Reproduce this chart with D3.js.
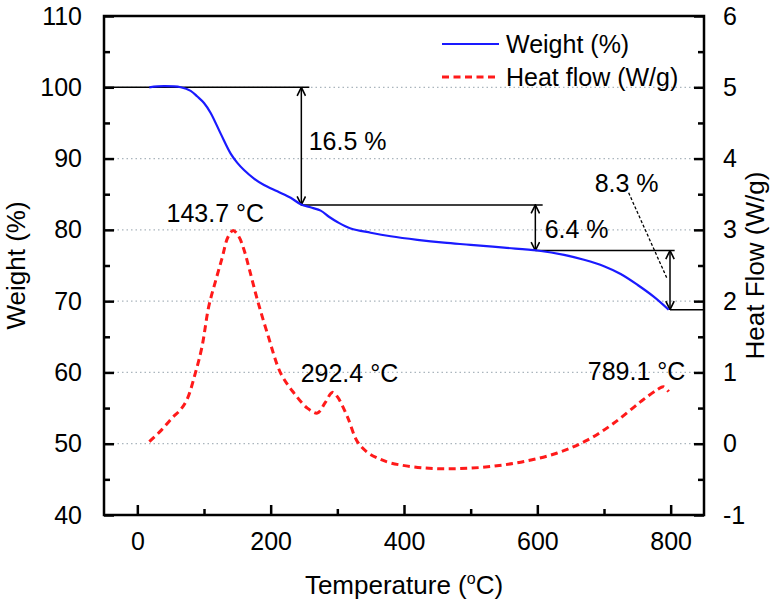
<!DOCTYPE html>
<html>
<head>
<meta charset="utf-8">
<script src="https://cdn.jsdelivr.net/npm/d3@7"></script>
<style>
  html, body { margin: 0; padding: 0; background: #fff; }
  svg { display: block; font-family: "Liberation Sans", Arial, sans-serif; }
</style>
</head>
<body>
<svg id="chart" width="778" height="603"></svg>
<script>
// ---- Data ----
const weightTemp = [18, 40, 65, 80, 90, 100, 110, 125, 140, 150, 160, 175, 190, 210, 230, 245, 262, 275, 288, 300, 320, 350, 380, 420, 460, 500, 550, 600, 640, 670, 700, 725, 750, 775, 797];
const weightPct  = [100.0, 100.15, 100.0, 99.5, 98.7, 97.8, 96.4, 93.5, 90.7, 89.4, 88.4, 87.2, 86.3, 85.4, 84.5, 83.6, 83.1, 82.7, 81.8, 81.1, 80.2, 79.6, 79.1, 78.6, 78.2, 77.9, 77.5, 77.1, 76.5, 75.8, 74.9, 73.8, 72.3, 70.6, 68.8];

const heatTemp = [18, 35, 52, 65, 75, 87, 97, 107, 117, 127, 136, 143.7, 152, 160, 168, 180, 195, 215, 235, 255, 270, 282, 292.4, 300, 315, 330, 345, 360, 380, 430, 480, 530, 580, 630, 675, 715, 755, 780, 789.1, 797];
const heatFlow = [0.03, 0.18, 0.36, 0.48, 0.63, 0.99, 1.36, 1.92, 2.27, 2.6, 2.9, 2.99, 2.91, 2.72, 2.45, 2.02, 1.55, 0.99, 0.71, 0.5, 0.43, 0.58, 0.72, 0.66, 0.38, 0.03, -0.12, -0.2, -0.27, -0.34, -0.35, -0.32, -0.25, -0.13, 0.05, 0.29, 0.59, 0.76, 0.8, 0.73];

const xTicks = [0, 200, 400, 600, 800];
const xMinorTicks = [100, 300, 500, 700];
const yLeftTicks = [40, 50, 60, 70, 80, 90, 100, 110];
const yLeftMinor = [45, 55, 65, 75, 85, 95, 105];
const yRightTicks = [-1, 0, 1, 2, 3, 4, 5, 6];
const yRightMinor = [-0.5, 0.5, 1.5, 2.5, 3.5, 4.5, 5.5];
const gridValues = [50, 60, 70, 80, 90, 100];

const legendLabels = ["Weight (%)", "Heat flow (W/g)"];

// Step annotations (temperature, weight) in data units
const stepLevels = [
  { y: 100.0, x0: -50, x1: 258 },
  { y: 83.5, x0: 245, x1: 608 },
  { y: 77.1, x0: 597, x1: 806 },
  { y: 68.8, x0: 799, x1: 850 }
];
const stepArrows = [
  { x: 246, y0: 100.0, y1: 83.5 },
  { x: 597, y0: 83.5, y1: 77.1 },
  { x: 799, y0: 77.1, y1: 68.8 }
];
const stepLabels = [
  { text: "16.5 %", x: 257, y: 91.2 },
  { text: "6.4 %", x: 611, y: 78.9 },
  { text: "8.3 %", x: 686, y: 85.3 }
];
const leader = { x0: 737, y0: 85.2, x1: 794, y1: 73.3 };
const peakLabels = [
  { text: "143.7 °C", x: 117, hf: 3.11, anchor: "middle" },
  { text: "292.4 °C", x: 245, hf: 0.865, anchor: "start" },
  { text: "789.1 °C", x: 822, hf: 0.89, anchor: "end" }
];

// ---- Layout ----
const svg = d3.select("#chart");
const L = 104, R = 704, T = 16, B = 515;

const x = d3.scaleLinear().domain([-50, 850]).range([L, R]);
const yL = d3.scaleLinear().domain([40, 110]).range([B, T]);
const yR = d3.scaleLinear().domain([-1, 6]).range([B, T]);

const FS = 25;
const fmt = d => String(d);

// grid
svg.append("g").selectAll("line").data(gridValues).join("line")
  .attr("x1", L).attr("x2", R)
  .attr("y1", d => yL(d)).attr("y2", d => yL(d))
  .attr("stroke", "#aab5bd").attr("stroke-width", 1.2)
  .attr("stroke-dasharray", "1.5,3");

// Axes
const axisStyle = g => {
  g.select(".domain").remove();
  g.selectAll("text").attr("font-size", FS).attr("fill", "#000")
    .attr("font-family", "Liberation Sans, Arial, sans-serif");
  g.selectAll(".tick line").attr("stroke", "#000").attr("stroke-width", 2.5);
};

svg.append("g").attr("transform", `translate(0,${B})`)
  .call(d3.axisBottom(x).tickValues(xTicks).tickSizeInner(-10).tickSizeOuter(0).tickPadding(17).tickFormat(fmt))
  .call(axisStyle);
svg.append("g").attr("transform", `translate(0,${B})`)
  .call(d3.axisBottom(x).tickValues(xMinorTicks).tickSizeInner(-6).tickSizeOuter(0).tickFormat(""))
  .call(axisStyle);

svg.append("g").attr("transform", `translate(${L},0)`)
  .call(d3.axisLeft(yL).tickValues(yLeftTicks).tickSizeInner(-10).tickSizeOuter(0).tickPadding(22).tickFormat(fmt))
  .call(axisStyle);
svg.append("g").attr("transform", `translate(${L},0)`)
  .call(d3.axisLeft(yL).tickValues(yLeftMinor).tickSizeInner(-6).tickSizeOuter(0).tickFormat(""))
  .call(axisStyle);

svg.append("g").attr("transform", `translate(${R},0)`)
  .call(d3.axisRight(yR).tickValues(yRightTicks).tickSizeInner(-10).tickSizeOuter(0).tickPadding(19).tickFormat(fmt))
  .call(axisStyle);
svg.append("g").attr("transform", `translate(${R},0)`)
  .call(d3.axisRight(yR).tickValues(yRightMinor).tickSizeInner(-6).tickSizeOuter(0).tickFormat(""))
  .call(axisStyle);

// Frame
svg.append("rect").attr("x", L).attr("y", T).attr("width", R - L).attr("height", B - T)
  .attr("fill", "none").attr("stroke", "#000").attr("stroke-width", 2.5);

// Axis titles
svg.append("text").attr("x", (L + R) / 2).attr("y", 594)
  .attr("text-anchor", "middle").attr("font-size", 26)
  .call(t => {
    t.append("tspan").text("Temperature (");
    t.append("tspan").attr("font-size", 16).attr("dy", -10).text("o");
    t.append("tspan").attr("dy", 10).text("C)");
  });
svg.append("text").attr("transform", `translate(25,${(T + B) / 2}) rotate(-90)`)
  .attr("text-anchor", "middle").attr("font-size", 26).text("Weight (%)");
svg.append("text").attr("transform", `translate(764,${(T + B) / 2}) rotate(-90)`)
  .attr("text-anchor", "middle").attr("font-size", 26).text("Heat Flow (W/g)");

// Markers
const defs = svg.append("defs");
defs.append("marker").attr("id", "arr").attr("viewBox", "0 0 10 10")
  .attr("refX", 9.5).attr("refY", 5).attr("markerWidth", 10).attr("markerHeight", 10)
  .attr("markerUnits", "userSpaceOnUse").attr("orient", "auto-start-reverse")
  .append("path").attr("d", "M1,0.8 L9.5,5 L1,9.2").attr("fill", "none")
  .attr("stroke", "#000").attr("stroke-width", 1.6);

// Step levels
svg.append("g").selectAll("line").data(stepLevels).join("line")
  .attr("x1", d => x(d.x0)).attr("x2", d => x(d.x1))
  .attr("y1", d => yL(d.y)).attr("y2", d => yL(d.y))
  .attr("stroke", "#000").attr("stroke-width", 1.5);

svg.append("g").selectAll("line").data(stepArrows).join("line")
  .attr("x1", d => x(d.x)).attr("x2", d => x(d.x))
  .attr("y1", d => yL(d.y0)).attr("y2", d => yL(d.y1))
  .attr("stroke", "#000").attr("stroke-width", 1.5)
  .attr("marker-start", "url(#arr)").attr("marker-end", "url(#arr)");

svg.append("line")
  .attr("x1", x(leader.x0)).attr("y1", yL(leader.y0))
  .attr("x2", x(leader.x1)).attr("y2", yL(leader.y1))
  .attr("stroke", "#000").attr("stroke-width", 1.3).attr("stroke-dasharray", "3,2");

svg.append("g").selectAll("text").data(stepLabels).join("text")
  .attr("x", d => x(d.x)).attr("y", d => yL(d.y))
  .attr("font-size", FS).attr("text-anchor", "start").text(d => d.text);

// Curves
const weightData = weightTemp.map((t, i) => [t, weightPct[i]]);
const heatData = heatTemp.map((t, i) => [t, heatFlow[i]]);

svg.append("path").datum(heatData)
  .attr("d", d3.line().x(d => x(d[0])).y(d => yR(d[1])).curve(d3.curveCatmullRom.alpha(0.5)))
  .attr("fill", "none").attr("stroke", "#ff1a1a").attr("stroke-width", 3)
  .attr("stroke-dasharray", "7,4.5");

svg.append("path").datum(weightData)
  .attr("d", d3.line().x(d => x(d[0])).y(d => yL(d[1])).curve(d3.curveCatmullRom.alpha(0.5)))
  .attr("fill", "none").attr("stroke", "#1a1aff").attr("stroke-width", 2.2);

// Peak labels
svg.append("g").selectAll("text").data(peakLabels).join("text")
  .attr("x", d => x(d.x)).attr("y", d => yR(d.hf))
  .attr("font-size", FS).attr("text-anchor", d => d.anchor).text(d => d.text);

// Legend
const leg = svg.append("g");
const legY = [44, 77];
leg.append("line").attr("x1", 442).attr("x2", 499).attr("y1", legY[0]).attr("y2", legY[0])
  .attr("stroke", "#1a1aff").attr("stroke-width", 2.2);
leg.append("line").attr("x1", 442).attr("x2", 499).attr("y1", legY[1]).attr("y2", legY[1])
  .attr("stroke", "#ff1a1a").attr("stroke-width", 3).attr("stroke-dasharray", "7,4.5");
leg.selectAll("text").data(legendLabels).join("text")
  .attr("x", 506).attr("y", (d, i) => legY[i]).attr("dy", "0.35em")
  .attr("font-size", 25).text(d => d);
</script>
</body>
</html>
